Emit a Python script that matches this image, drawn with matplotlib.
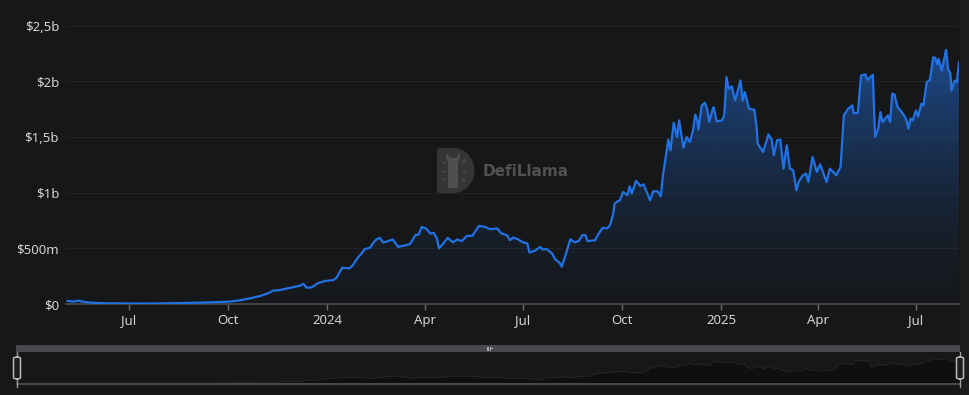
import matplotlib
matplotlib.use("Agg")
import matplotlib.pyplot as plt
import matplotlib.dates as mdates
import numpy as np
import pandas as pd
from matplotlib.patches import Rectangle, FancyBboxPatch, Polygon
from matplotlib.lines import Line2D

# ---------------- data (TVL in millions USD) ----------------
dates = [
    "2023-05-05", "2023-05-10", "2023-05-15", "2023-05-21", "2023-05-26", "2023-06-04", "2023-06-11",
    "2023-06-23", "2023-07-11", "2023-07-30", "2023-08-17", "2023-09-05", "2023-09-24", "2023-10-03",
    "2023-10-12", "2023-10-21", "2023-10-31", "2023-11-07", "2023-11-12", "2023-11-18", "2023-11-25",
    "2023-11-30", "2023-12-07", "2023-12-10", "2023-12-13", "2023-12-18", "2023-12-23", "2023-12-30",
    "2024-01-07", "2024-01-10", "2024-01-15", "2024-01-22", "2024-01-25", "2024-01-29", "2024-02-02",
    "2024-02-05", "2024-02-10", "2024-02-13", "2024-02-16", "2024-02-19", "2024-02-22", "2024-02-26",
    "2024-03-02", "2024-03-07", "2024-03-15", "2024-03-18", "2024-03-23", "2024-03-26", "2024-03-29",
    "2024-04-02", "2024-04-06", "2024-04-09", "2024-04-12", "2024-04-14", "2024-04-18", "2024-04-22",
    "2024-04-27", "2024-05-01", "2024-05-05", "2024-05-10", "2024-05-15", "2024-05-17", "2024-05-21",
    "2024-05-27", "2024-05-31", "2024-06-07", "2024-06-11", "2024-06-16", "2024-06-19", "2024-06-22",
    "2024-06-26", "2024-07-01", "2024-07-05", "2024-07-07", "2024-07-12", "2024-07-17", "2024-07-19",
    "2024-07-23", "2024-07-28", "2024-07-31", "2024-08-04", "2024-08-06", "2024-08-10", "2024-08-14",
    "2024-08-18", "2024-08-22", "2024-08-25", "2024-08-28", "2024-08-30", "2024-09-06", "2024-09-09",
    "2024-09-13", "2024-09-17", "2024-09-20", "2024-09-23", "2024-09-24", "2024-09-26", "2024-09-29",
    "2024-10-02", "2024-10-06", "2024-10-08", "2024-10-10", "2024-10-14", "2024-10-18", "2024-10-21",
    "2024-10-27", "2024-10-30", "2024-11-03", "2024-11-06", "2024-11-08", "2024-11-13", "2024-11-15",
    "2024-11-18", "2024-11-21", "2024-11-23", "2024-11-27", "2024-11-30", "2024-12-03", "2024-12-06",
    "2024-12-08", "2024-12-10", "2024-12-11", "2024-12-14", "2024-12-17", "2024-12-19", "2024-12-21",
    "2024-12-24", "2024-12-25", "2024-12-28", "2025-01-02", "2025-01-04", "2025-01-06", "2025-01-08",
    "2025-01-11", "2025-01-14", "2025-01-17", "2025-01-19", "2025-01-21", "2025-01-23", "2025-01-27",
    "2025-02-01", "2025-02-03", "2025-02-04", "2025-02-09", "2025-02-14", "2025-02-17", "2025-02-19",
    "2025-02-22", "2025-02-25", "2025-02-28", "2025-03-03", "2025-03-06", "2025-03-09", "2025-03-12",
    "2025-03-14", "2025-03-18", "2025-03-21", "2025-03-23", "2025-03-27", "2025-03-31", "2025-04-03",
    "2025-04-09", "2025-04-12", "2025-04-18", "2025-04-22", "2025-04-25", "2025-04-29", "2025-05-03",
    "2025-05-04", "2025-05-08", "2025-05-11", "2025-05-15", "2025-05-17", "2025-05-22", "2025-05-24",
    "2025-05-27", "2025-05-29", "2025-05-31", "2025-06-05", "2025-06-07", "2025-06-09", "2025-06-11",
    "2025-06-14", "2025-06-19", "2025-06-22", "2025-06-24", "2025-06-26", "2025-06-28", "2025-07-01",
    "2025-07-03", "2025-07-06", "2025-07-08", "2025-07-11", "2025-07-14", "2025-07-17", "2025-07-19",
    "2025-07-21", "2025-07-22", "2025-07-25", "2025-07-29", "2025-07-31", "2025-08-02", "2025-08-03",
    "2025-08-06", "2025-08-08", "2025-08-10",
]
tvl_m = [
    27, 22, 30, 18, 12, 8, 6,
    5, 4, 5, 8, 12, 18, 22,
    33, 50, 72, 95, 120, 125, 140,
    150, 165, 182, 146, 150, 185, 206,
    215, 239, 325, 320, 349, 409, 454,
    493, 505, 549, 582, 594, 553, 562,
    580, 513, 529, 538, 618, 624, 692,
    678, 633, 639, 588, 499, 544, 594,
    553, 580, 564, 612, 612, 642, 701,
    692, 672, 678, 633, 618, 573, 597,
    582, 553, 544, 463, 478, 513, 490,
    493, 454, 400, 370, 334, 454, 582,
    553, 567, 618, 618, 564, 573, 627,
    684, 678, 708, 820, 900, 917, 932,
    1006, 977, 1057, 992, 1105, 1060, 1075,
    932, 1012, 1012, 968, 1156, 1476, 1380,
    1628, 1499, 1649, 1404, 1499, 1454, 1565,
    1700, 1643, 1565, 1783, 1807, 1753, 1634,
    1744, 1768, 1640, 1649, 1702, 2037, 1933,
    1953, 1828, 1933, 2007, 1828, 1903, 1753,
    1744, 1589, 1440, 1365, 1523, 1476, 1335,
    1470, 1476, 1216, 1425, 1216, 1201, 1021,
    1096, 1156, 1171, 1096, 1320, 1186, 1254,
    1096, 1216, 1156, 1231, 1694, 1753, 1783,
    1715, 1715, 2052, 2061, 2013, 2058, 1499,
    1574, 1723, 1634, 1694, 1634, 1888, 1882,
    1768, 1708, 1658, 1574, 1664, 1649, 1738,
    1684, 1798, 1783, 1992, 2013, 2216, 2210,
    2150, 2201, 2097, 2282, 2103, 2073, 1917,
    2007, 1992, 2171,
]

y_ticks = [0, 500, 1000, 1500, 2000, 2500]
y_tick_labels = ["$0", "$500m", "$1b", "$1,5b", "$2b", "$2,5b"]
x_tick_dates = ["2023-07-01", "2023-10-01", "2024-01-01", "2024-04-01", "2024-07-01",
                "2024-10-01", "2025-01-01", "2025-04-01", "2025-07-01"]
x_tick_labels = ["Jul", "Oct", "2024", "Apr", "Jul", "Oct", "2025", "Apr", "Jul"]
year_labels = {"2024", "2025"}

# ---------------- styling ----------------
W, H = 969, 395
BG = "#161719"
LINE = "#2172e5"
plt.rcParams["font.family"] = ["Noto Sans", "DejaVu Sans"]

def fx(px):
    return px / W

def fy(py):
    return 1 - py / H

fig = plt.figure(figsize=(W / 100, H / 100), dpi=100, facecolor=BG)

# right-edge lighter strip
fig.patches.append(Rectangle((fx(960), 0), fx(9), 1, transform=fig.transFigure,
                             facecolor="#1b1c1e", edgecolor="none", zorder=0))

d = pd.to_datetime(dates)
v = np.array(tvl_m, dtype=float)
xn = mdates.date2num(d)

ax = fig.add_axes([fx(66), fy(304), fx(959 - 66), (304 - 20) / H])
ax.set_facecolor(BG)

# gradient fill under the line
verts = [(xn[0], 0)] + list(zip(xn, v)) + [(xn[-1], 0)]
clip = Polygon(verts, closed=True, facecolor="none", edgecolor="none")
ax.add_patch(clip)
grad = np.zeros((256, 1, 4))
rgb = matplotlib.colors.to_rgb(LINE)
grad[:, 0, 0], grad[:, 0, 1], grad[:, 0, 2] = rgb
t = np.linspace(0.0, 1.0, 256)
grad[:, 0, 3] = 0.02 + 0.55 * t ** 1.6
im = ax.imshow(grad, aspect="auto", origin="lower",
               extent=[xn[0], xn[-1], 0, v.max()], zorder=1, interpolation="bilinear")
im.set_clip_path(clip)

ax.plot(d, v, color=LINE, lw=1.6, zorder=3, solid_joinstyle="round")

ax.set_xlim(mdates.date2num(pd.Timestamp("2023-05-03 12:00")), mdates.date2num(pd.Timestamp("2025-08-10")))
ax.set_ylim(0, 2550)

ax.set_yticks(y_ticks)
ax.set_yticklabels(y_tick_labels)
for yt in y_ticks[1:]:
    ax.axhline(yt, color="#222326", lw=0.8, zorder=0)

xt = pd.to_datetime(x_tick_dates)
ax.set_xticks(mdates.date2num(xt))
ax.set_xticklabels(x_tick_labels)
for lab in ax.get_xticklabels():
    if lab.get_text() in year_labels:
        lab.set_fontweight("bold")
        lab.set_color("#f2f2f2")

ax.tick_params(axis="y", length=0, pad=5, labelsize=9.5, labelcolor="#d4d4d4")
ax.tick_params(axis="x", length=4, width=1, color="#6a6b6d", pad=3, labelsize=9.5, labelcolor="#d4d4d4")

for s in ["top", "right", "left"]:
    ax.spines[s].set_visible(False)
ax.spines["bottom"].set_color("#4a4b4d")
ax.spines["bottom"].set_linewidth(1.2)

# ---------------- watermark ----------------
lax = fig.add_axes([fx(437), fy(193), fx(38), 45 / H])
lax.set_xlim(0, 38)
lax.set_ylim(0, 45)
lax.axis("off")
theta = np.linspace(-np.pi / 2, np.pi / 2, 60)
dshape = [(2, 0), (16, 0)] + [(16 + 22 * np.cos(th) * 0.98, 22.5 + 22.5 * np.sin(th)) for th in theta] + [(16, 45), (2, 45), (0, 43), (0, 2)]
lax.add_patch(Polygon(dshape, closed=True, facecolor="#343537", edgecolor="none"))
llama = [(11, 5), (11, 30), (9, 36), (10, 40), (12, 36), (14, 35), (18, 35), (20, 36), (22, 40),
         (23, 36), (21, 30), (21, 5)]
lax.add_patch(Polygon(llama, closed=True, facecolor="#4e4f51", edgecolor="none"))
for (x0, y0, x1, y1) in [(5, 22, 7, 22), (26, 22, 28, 22), (6, 31, 8, 30), (26, 31, 28, 33),
                         (6, 13, 8, 14), (26, 14, 28, 12)]:
    lax.plot([x0, x1], [y0, y1], color="#4e4f51", lw=1)
fig.text(fx(483), fy(172), "DefiLlama", color="#505153", fontsize=11, fontweight="bold",
         va="center", ha="left", family=["DejaVu Sans"])

# ---------------- brush / slider ----------------
bax = fig.add_axes([fx(16), fy(384), fx(944), 32 / H])
bax.set_facecolor(BG)
bax.fill_between(d, v, 0, color="#0e0f11", lw=0)
bax.plot(d, v, color="#26272a", lw=0.6)
bax.set_xlim(xn[0], xn[-1])
bax.set_ylim(0, 2800)
bax.axis("off")

fig.patches.append(Rectangle((fx(16), fy(352)), fx(944), 7 / H, transform=fig.transFigure,
                             facecolor="#48494c", edgecolor="none", zorder=2))
fig.patches.append(Rectangle((fx(16), fy(385)), fx(944), 2 / H, transform=fig.transFigure,
                             facecolor="#48494c", edgecolor="none", zorder=2))
for xc in (486.5, 488, 489.5):
    fig.lines.append(Line2D([fx(xc), fx(xc)], [fy(346.5), fy(350)], transform=fig.transFigure,
                            color="#b0b0b0", lw=0.7, zorder=3))
fig.lines.append(Line2D([fx(489.5), fx(492)], [fy(348.3), fy(348.3)], transform=fig.transFigure,
                        color="#b0b0b0", lw=0.7, zorder=3))

for hx in (17, 960):
    fig.lines.append(Line2D([fx(hx), fx(hx)], [fy(352), fy(387)], transform=fig.transFigure,
                            color="#9c9c9c", lw=1, zorder=3))
    fig.patches.append(FancyBboxPatch((fx(hx - 3.5), fy(379)), fx(7), 22 / H,
                                      boxstyle="round,pad=0,rounding_size=0.004",
                                      transform=fig.transFigure, facecolor="#1d1e20",
                                      edgecolor="#b8b8b8", lw=1.1, zorder=4))

fig.savefig("out.png", dpi=100, facecolor=BG)
